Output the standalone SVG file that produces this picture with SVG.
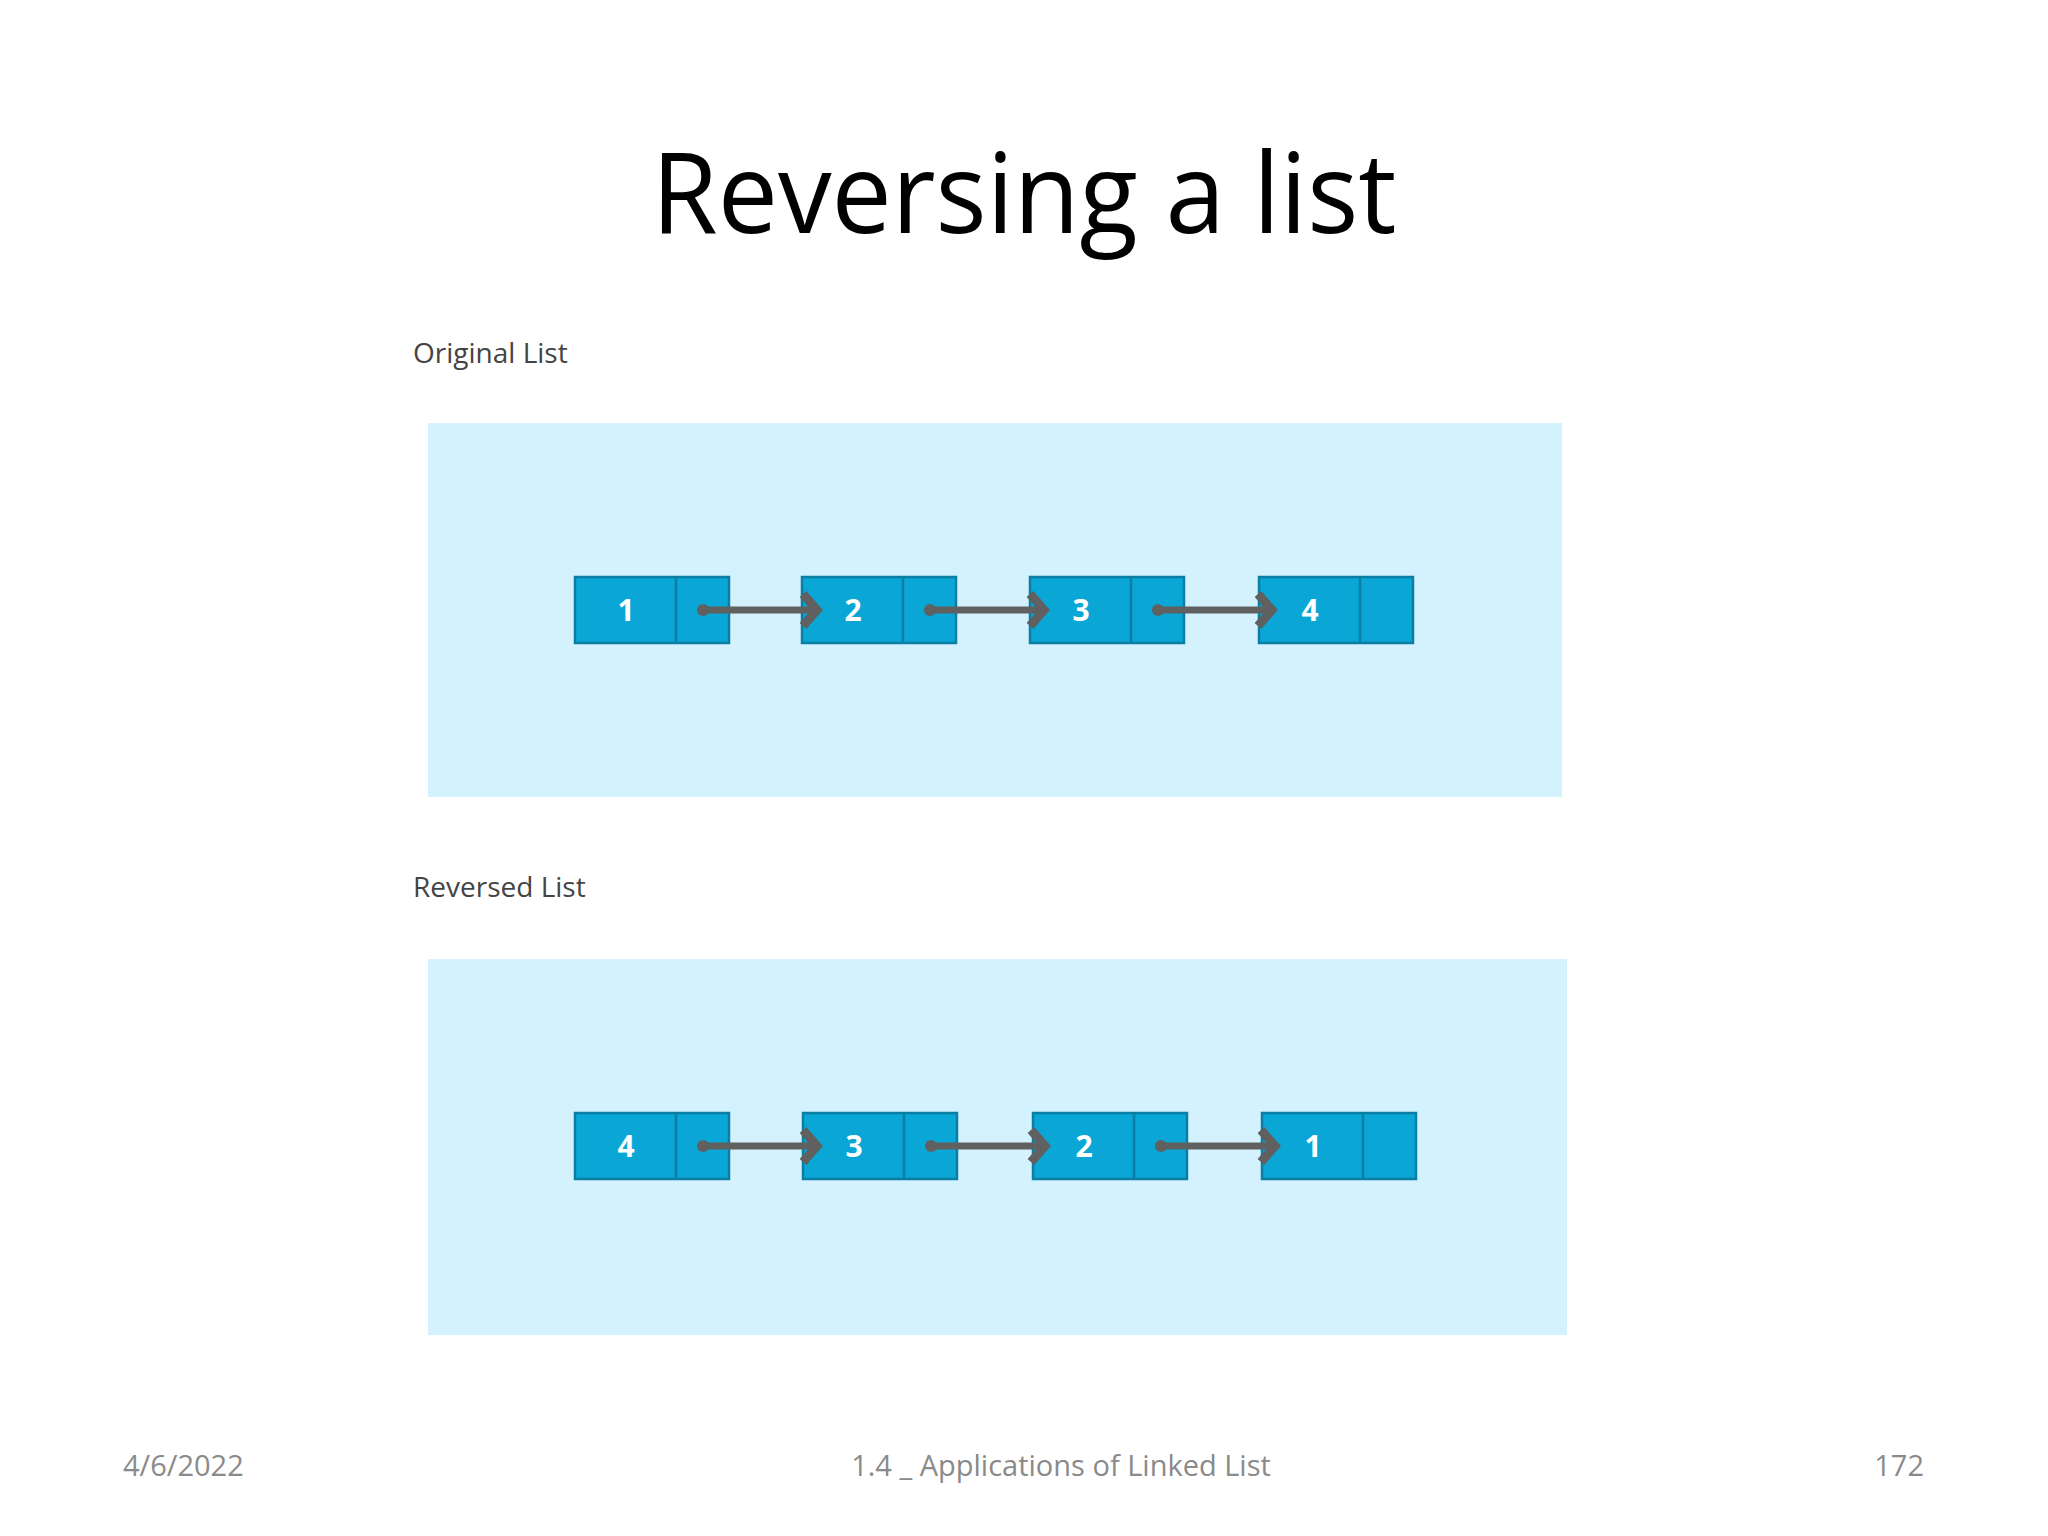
<svg xmlns="http://www.w3.org/2000/svg" width="2048" height="1536" viewBox="0 0 2048 1536">
<style>
.cell{fill:#0aa7d6;stroke:#0b7ea3;stroke-width:2.5}
.num{font-family:"Open Sans","DejaVu Sans",sans-serif;font-weight:bold;font-size:30px;fill:#fff;text-anchor:middle}
.lbl{font-family:"Open Sans","DejaVu Sans",sans-serif;font-size:28px;fill:#444}
.foot{font-family:"Open Sans","Liberation Sans",sans-serif;font-size:29px;fill:#8a8a8a}
.arr{stroke:#606060;stroke-width:7;fill:none}
.chev{stroke:#606060;stroke-width:9;fill:none;stroke-linejoin:miter}
.panel{fill:#d4f2fd}
</style>
<defs>
<g id="node">
<rect class="cell" x="0" y="0" width="154" height="66"/>
<line x1="101" y1="0" x2="101" y2="66" stroke="#0b7ea3" stroke-width="2.5"/>
</g>
<g id="arrow">
<line class="arr" x1="0" y1="0" x2="108" y2="0"/>
<circle cx="0" cy="0" r="6" fill="#606060"/>
<polyline class="chev" points="100,-16 114,0 100,16"/>
</g>
</defs>
<rect width="2048" height="1536" fill="#fff"/>
<text x="1024" y="233" text-anchor="middle" font-family="Open Sans, DejaVu Sans, sans-serif" font-size="112" fill="#000" textLength="745" lengthAdjust="spacingAndGlyphs">Reversing a list</text>
<text class="lbl" x="413" y="363">Original List</text>
<text class="lbl" x="413" y="897">Reversed List</text>
<rect class="panel" x="428" y="423" width="1134" height="374"/>
<rect class="panel" x="428" y="959" width="1139" height="376"/>
<g id="n1"><use href="#node" x="575" y="577"/><text class="num" x="626" y="621">1</text></g>
<g id="n2"><use href="#node" x="802" y="577"/><text class="num" x="853" y="621">2</text></g>
<g id="n3"><use href="#node" x="1030" y="577"/><text class="num" x="1081" y="621">3</text></g>
<g id="n4"><use href="#node" x="1259" y="577"/><text class="num" x="1310" y="621">4</text></g>
<g id="r4"><use href="#node" x="575" y="1113"/><text class="num" x="626" y="1157">4</text></g>
<g id="r3"><use href="#node" x="803" y="1113"/><text class="num" x="854" y="1157">3</text></g>
<g id="r2"><use href="#node" x="1033" y="1113"/><text class="num" x="1084" y="1157">2</text></g>
<g id="r1"><use href="#node" x="1262" y="1113"/><text class="num" x="1313" y="1157">1</text></g>
<g id="connectors">
<use href="#arrow" x="703" y="610"/>
<use href="#arrow" x="930" y="610"/>
<use href="#arrow" x="1158" y="610"/>
<use href="#arrow" x="703" y="1146"/>
<use href="#arrow" x="931" y="1146"/>
<use href="#arrow" x="1161" y="1146"/>
</g>
<text class="foot" x="123" y="1476">4/6/2022</text>
<text class="foot" x="1061" y="1476" text-anchor="middle">1.4 _ Applications of Linked List</text>
<text class="foot" x="1924" y="1476" text-anchor="end">172</text>
</svg>
